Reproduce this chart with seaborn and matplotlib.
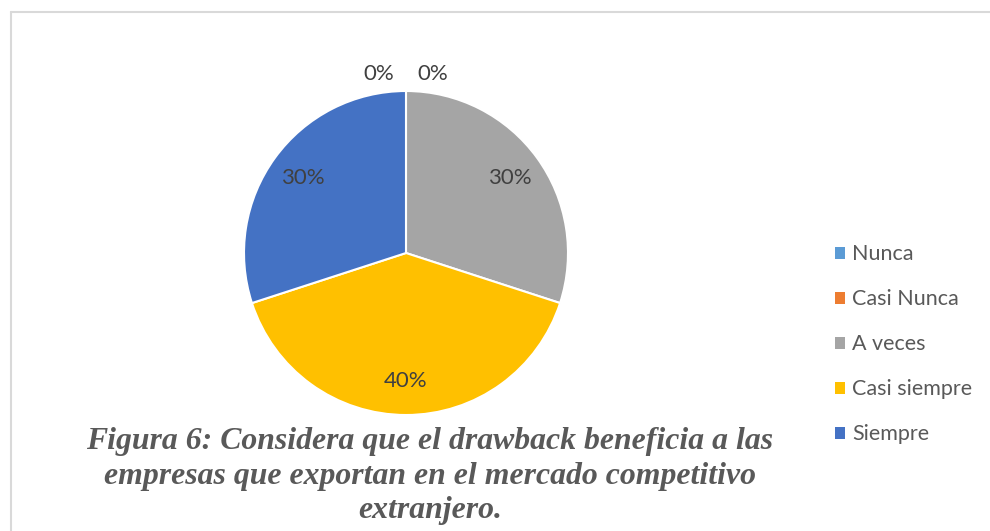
import matplotlib
matplotlib.use("Agg")
import matplotlib.pyplot as plt
import seaborn as sns
import numpy as np
from matplotlib.lines import Line2D
from matplotlib.patches import Rectangle

categories = ["Nunca", "Casi Nunca", "A veces", "Casi siempre", "Siempre"]
values = [0, 0, 30, 40, 30]
colors = ["#5B9BD5", "#ED7D31", "#A5A5A5", "#FFC000", "#4472C4"]
caption = ("Figura 6: Considera que el drawback beneficia a las\n"
           "empresas que exportan en el mercado competitivo\n"
           "extranjero.")

sns.set_theme(style="white")
plt.rcParams["font.family"] = ["Lato", "DejaVu Sans"]

W, H = 990, 531
fig = plt.figure(figsize=(W / 100, H / 100), dpi=100)
fig.patch.set_facecolor("white")

cx, cy, r = 406, 253, 162
ax = fig.add_axes([(cx - r) / W, (H - cy - r) / H, 2 * r / W, 2 * r / H])
palette = sns.color_palette(colors)
total = sum(values)

wedges, _ = ax.pie(values, colors=palette, startangle=90, counterclock=False,
                   radius=1.0, wedgeprops=dict(edgecolor="white", linewidth=1.5))
ax.set_xlim(-1, 1)
ax.set_ylim(-1, 1)
ax.set_aspect("equal")

# labels
angle = 90.0
zero_idx = 0
for v in values:
    span = 360.0 * v / total
    mid = angle - span / 2
    pct = f"{round(100 * v / total):.0f}%"
    if v == 0:
        off = 8.5 if zero_idx == 0 else -8.5
        a = np.deg2rad(mid + off)
        rr = 1.12
        zero_idx += 1
    else:
        a = np.deg2rad(mid)
        rr = 0.79
    ax.text(rr * np.cos(a), rr * np.sin(a), pct, ha="center", va="center",
            fontsize=16, color="#404040", clip_on=False)
    angle -= span

# legend
handles = [Rectangle((0, 0), 1, 1, facecolor=c, edgecolor="none") for c in palette]
leg = fig.legend(handles, categories, loc="upper left",
                 bbox_to_anchor=(816 / W, 1 - 225 / H), frameon=False,
                 fontsize=15.5, labelcolor="#595959", handlelength=0.47,
                 handleheight=0.47, handletextpad=0.3, labelspacing=1.16)

# caption
fig.text(430 / W, 1 - 454 / H, caption, ha="center", va="top",
         fontsize=22.9, fontweight="bold", fontstyle="italic",
         family=["Liberation Serif", "DejaVu Serif"], color="#595959",
         linespacing=1.26, multialignment="center")
# shift so the first line's baseline sits where the reference has it
fig.canvas.draw()
txt = fig.texts[-1]
txt.set_va("top")
txt.set_y(1 - 427 / H)

# border
fig.add_artist(Line2D([11 / W, 1], [1 - 12 / H, 1 - 12 / H], transform=fig.transFigure,
                      color="#D9D9D9", linewidth=1.5))
fig.add_artist(Line2D([11 / W, 11 / W], [1 - 12 / H, 0], transform=fig.transFigure,
                      color="#D9D9D9", linewidth=1.5))

fig.savefig("out.png", dpi=100, facecolor="white")
